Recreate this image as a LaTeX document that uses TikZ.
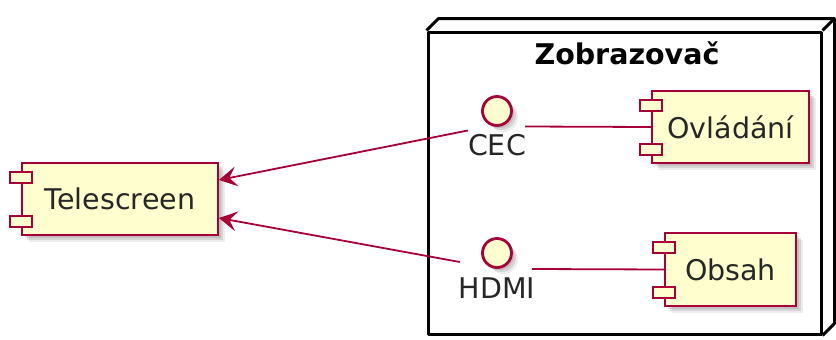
\documentclass[tikz,border=0pt]{standalone}
\usepackage{fontspec}
\setmainfont{DejaVu Sans}
\usetikzlibrary{arrows.meta,shadows}
\definecolor{compfill}{HTML}{FEFECE}
\definecolor{compline}{HTML}{A80036}
\tikzset{
  shad/.style={
    drop shadow={shadow xshift=2.5pt, shadow yshift=-2.5pt, fill=black, opacity=0.10},
    drop shadow={shadow xshift=4.5pt, shadow yshift=-4.5pt, fill=black, opacity=0.10},
    drop shadow={shadow xshift=6.5pt, shadow yshift=-6.5pt, fill=black, opacity=0.07}},
  comp/.style={draw=compline, fill=compfill, line width=2pt, inner sep=0pt,
    font=\fontsize{28.5}{32}\selectfont, text=black!85, shad},
  port/.style={draw=compline, fill=compfill, line width=2pt, inner sep=0pt,
    minimum width=22pt, minimum height=11pt},
  iface/.style={circle, draw=compline, fill=compfill, line width=2.8pt, inner sep=0pt,
    minimum size=29pt, shad},
  lbl/.style={inner sep=0pt, font=\fontsize{28.5}{32}\selectfont, text=black!85},
  ibox/.style={inner sep=0pt},
  conn/.style={draw=compline, line width=1.8pt},
  arr/.style={conn, -{Stealth[length=18pt,width=20pt,inset=7.5pt]}},
  frame/.style={draw=black, line width=3pt, line join=round},
}
\begin{document}
\begin{tikzpicture}[x=1pt,y=-1pt]
\useasboundingbox (0,0) rectangle (836,340);
% container node
\node[frame, minimum width=393pt, minimum height=302pt, inner sep=0pt] (zob) at (624.5,183) {};
\draw[frame] (zob.north west) -- ++(12,-12) -| ([xshift=12pt,yshift=12pt]zob.south east) -- (zob.south east);
\draw[frame] (zob.north east) -- ++(12,-12);
\node[inner sep=0pt, font=\fontsize{28.5}{32}\selectfont\bfseries] (title) at (627,53) {Zobrazovač};
% components
\node[comp, minimum width=196pt, minimum height=72pt] (tele) at (120,199) {Telescreen};
\node[port] (telep1) at ([yshift=-15pt]tele.north west) {};
\node[port] (telep2) at ([yshift=15pt]tele.south west) {};
\node[comp, minimum width=157pt, minimum height=72pt] (ovl) at (730.5,127) {Ovládání};
\node[port] (ovlp1) at ([yshift=-15pt]ovl.north west) {};
\node[port] (ovlp2) at ([yshift=15pt]ovl.south west) {};
\node[comp, minimum width=131pt, minimum height=73pt] (obs) at (730.5,269.5) {Obsah};
\node[port] (obsp1) at ([yshift=-15pt]obs.north west) {};
\node[port] (obsp2) at ([yshift=15pt]obs.south west) {};
% interfaces
\node[ibox, minimum width=57pt, minimum height=63pt] (cec) at (496.5,126.5) {};
\node[iface] (cecc) at (497,111) {};
\node[lbl] (cecl) at (497,145) {CEC};
\node[ibox, minimum width=72pt, minimum height=63pt] (hdmi) at (496,269) {};
\node[iface] (hdmic) at (497,253) {};
\node[lbl] (hdmil) at (497,288) {HDMI};
% connectors
\draw[conn] (cec.east) -- (ovl.west);
\draw[conn] (hdmi.east) -- (obs.west);
\draw[arr] ([yshift=-4pt]cec.west) -- ([yshift=19pt]tele.east);
\draw[arr] ([yshift=7pt]hdmi.west) -- ([yshift=-19pt]tele.east);
\end{tikzpicture}
\end{document}
